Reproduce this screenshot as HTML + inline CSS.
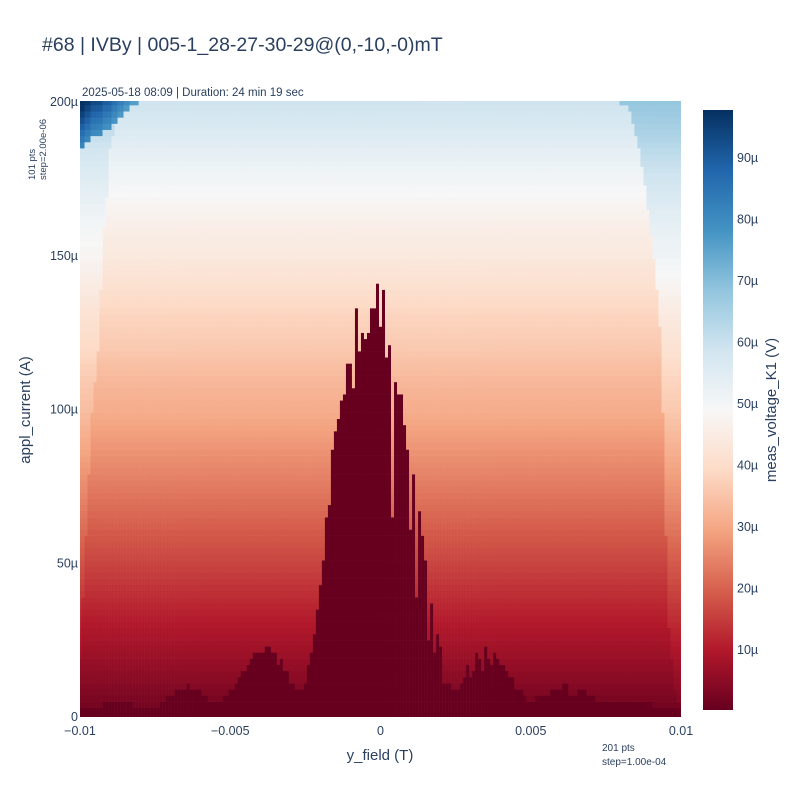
<!DOCTYPE html>
<html><head><meta charset="utf-8"><style>
body{margin:0;background:#fff;}
svg{display:block;font-family:"Liberation Sans",sans-serif;}
</style></head><body>
<svg id="chart" width="800" height="800" viewBox="0 0 800 800">
<defs>
<clipPath id="plotclip"><rect x="80" y="101" width="601" height="616"/></clipPath>
<linearGradient id="cbgrad" x1="0" y1="1" x2="0" y2="0">
<stop offset="0" stop-color="#67001f"/><stop offset="0.1" stop-color="#b2182b"/><stop offset="0.2" stop-color="#d6604d"/><stop offset="0.3" stop-color="#f4a582"/><stop offset="0.4" stop-color="#fddbc7"/><stop offset="0.5" stop-color="#f7f7f7"/><stop offset="0.6" stop-color="#d1e5f0"/><stop offset="0.7" stop-color="#92c5de"/><stop offset="0.8" stop-color="#4393c3"/><stop offset="0.9" stop-color="#2166ac"/><stop offset="1" stop-color="#053061"/>
</linearGradient>
</defs>
<text x="42" y="51" font-size="19.5" fill="#2a3f5f">#68 | IVBy | 005-1_28-27-30-29@(0,-10,-0)mT</text>
<text x="82" y="96" font-size="11.5" fill="#2a3f5f">2025-05-18 08:09 | Duration: 24 min 19 sec</text>
<g id="cells" clip-path="url(#plotclip)"></g>
<g id="xaxis"></g>
<g id="yaxis"></g>
<text x="380" y="760" font-size="15" fill="#2a3f5f" text-anchor="middle">y_field (T)</text>
<text transform="translate(30,410) rotate(-90)" font-size="15" fill="#2a3f5f" text-anchor="middle">appl_current (A)</text>
<text transform="translate(35,180) rotate(-90)" font-size="9.5" fill="#2a3f5f">101 pts</text>
<text transform="translate(46,180) rotate(-90)" font-size="9.5" fill="#2a3f5f">step=2.00e-06</text>
<text x="602" y="751" font-size="10" fill="#2a3f5f">201 pts</text>
<text x="602" y="765" font-size="10" fill="#2a3f5f">step=1.00e-04</text>
<rect x="703" y="110" width="30" height="600" fill="url(#cbgrad)"/>
<g id="cbticks"></g>
<text transform="translate(776,410) rotate(-90)" font-size="15" fill="#2a3f5f" text-anchor="middle">meas_voltage_K1 (V)</text>
</svg>
<script>
// critical current (µA) per field column (201 columns, -0.01..0.01 T)
const criticalCurrent = [
4,4,4,4,4,4,4,4,5,5,
5,5,5,5,5,5,5,5,3,3,
3,3,3,3,3,3,3,5,5,7,
7,7,9,9,9,9,11,9,9,9,
9,7,7,5,5,5,5,5,7,7,
9,9,11,13,15,15,17,19,21,21,
21,21,23,23,21,21,17,19,16,16,
11,11,9,9,9,11,17,21,27,35,
43,51,65,69,87,93,97,103,105,115,
115,107,134,119,125,123,125,133,133,141,
127,139,117,121,65,109,105,105,95,87,
61,79,39,67,59,51,25,37,21,27,
23,11,11,11,9,9,9,11,13,17,
13,15,21,19,15,23,19,17,21,19,
17,17,15,13,13,9,9,9,7,5,
5,5,7,7,7,7,7,9,9,9,
9,11,11,7,7,7,9,9,9,7,
7,7,5,5,5,5,5,5,5,5,
5,5,5,5,5,5,5,5,5,5,
5,3,3,3,3,3,3,3,3,3,
3];
// normal-state voltage (µV) at currents 0,10,...,200 µA
const normalVoltage = [1,4,7,10,13,16,19,22,25,28,31,33,36,38,41,44,46,49,52,56,59];
// left edge: threshold current of the high-voltage (dark blue) zone, cols 0..19
const leftBlueI = [186,186,188,188,190,190,190,190,192,192,192,194,194,196,196,198,198,200,200,200];
// left edge strip threshold currents, cols 0..12
const leftStripI = [20,40,60,80,100,110,120,140,160,170,185,190,196];
// right edge strip threshold currents, cols 180..200
const rightStripI = [200,200,200,198,194,190,186,180,174,166,158,150,140,128,100,60,30,20,10,5,5];
const xTicks = [-0.01,-0.005,0,0.005,0.01];
const xTickLabels = ["−0.01","−0.005","0","0.005","0.01"];
const yTicks = [0,50,100,150,200];
const yTickLabels = ["0","50µ","100µ","150µ","200µ"];
const cbTicks = [10,20,30,40,50,60,70,80,90];
const cbTickLabels = ["10µ","20µ","30µ","40µ","50µ","60µ","70µ","80µ","90µ"];

const NS="http://www.w3.org/2000/svg";
const X0=80,X1=681,Y0=717,Y1=102;
const xScale=f=>X0+(f+0.01)/0.02*(X1-X0);
const yScale=i=>Y0-i/200*(Y0-Y1);
const zmin=0.24,zmax=97.8;
const stops=["#67001f","#b2182b","#d6604d","#f4a582","#fddbc7","#f7f7f7","#d1e5f0","#92c5de","#4393c3","#2166ac","#053061"].map(h=>[parseInt(h.slice(1,3),16),parseInt(h.slice(3,5),16),parseInt(h.slice(5,7),16)]);
function color(v){let t=(v-zmin)/(zmax-zmin);t=Math.max(0,Math.min(1,t))*10;const k=Math.min(9,Math.floor(t)),f=t-k;const a=stops[k],b=stops[k+1];return `rgb(${Math.round(a[0]+(b[0]-a[0])*f)},${Math.round(a[1]+(b[1]-a[1])*f)},${Math.round(a[2]+(b[2]-a[2])*f)})`;}
function vNorm(I){const p=I/10,k=Math.min(19,Math.floor(p));return normalVoltage[k]+(normalVoltage[k+1]-normalVoltage[k])*(p-k);}
function cellValue(col,I){
  if(I<criticalCurrent[col]) return 0.3;
  let v=vNorm(I);
  if(col<leftBlueI.length && I>=leftBlueI[col]) return 76+(I-leftBlueI[col])*1.3+(19-col)*0.3;
  if(col<leftStripI.length && I>=leftStripI[col]) v+=1+0.02*I;
  if(col>=180 && I>=rightStripI[col-180]) v+=1+0.04*I;
  return v;
}
const g=document.getElementById('cells');
const nCols=criticalCurrent.length, dx=(X1-X0)/(nCols-1), dy=(Y0-Y1)/100;
for(let c=0;c<nCols;c++){
  const f=-0.01+c*0.0001;
  for(let r=0;r<=100;r++){
    const I=r*2;
    const rect=document.createElementNS(NS,'rect');
    rect.setAttribute('x',(xScale(f)-dx/2).toFixed(2));
    rect.setAttribute('y',(yScale(I)-dy/2).toFixed(2));
    rect.setAttribute('width',(dx+0.3).toFixed(2));
    rect.setAttribute('height',(dy+0.3).toFixed(2));
    rect.setAttribute('fill',color(cellValue(c,I)));
    
    
    g.appendChild(rect);
  }
}
const xa=document.getElementById('xaxis');
xTicks.forEach((t,i)=>{
  const tx=document.createElementNS(NS,'text');
  tx.setAttribute('x',xScale(t));tx.setAttribute('y',735);
  tx.setAttribute('font-size','12.5');tx.setAttribute('fill','#2a3f5f');tx.setAttribute('text-anchor','middle');
  tx.textContent=xTickLabels[i];
  
  
  xa.appendChild(tx);
});
const ya=document.getElementById('yaxis');
yTicks.forEach((t,i)=>{
  const tx=document.createElementNS(NS,'text');
  tx.setAttribute('x',78);tx.setAttribute('y',yScale(t)+4);
  tx.setAttribute('font-size','12.5');tx.setAttribute('fill','#2a3f5f');tx.setAttribute('text-anchor','end');
  tx.textContent=yTickLabels[i];
  
  
  ya.appendChild(tx);
});
const cb=document.getElementById('cbticks');
cbTicks.forEach((t,i)=>{
  const tx=document.createElementNS(NS,'text');
  tx.setAttribute('x',737);tx.setAttribute('y',710-(t-zmin)/(zmax-zmin)*600+4);
  tx.setAttribute('font-size','12.5');tx.setAttribute('fill','#2a3f5f');
  tx.textContent=cbTickLabels[i];
  
  
  cb.appendChild(tx);
});
</script>
</body></html>
